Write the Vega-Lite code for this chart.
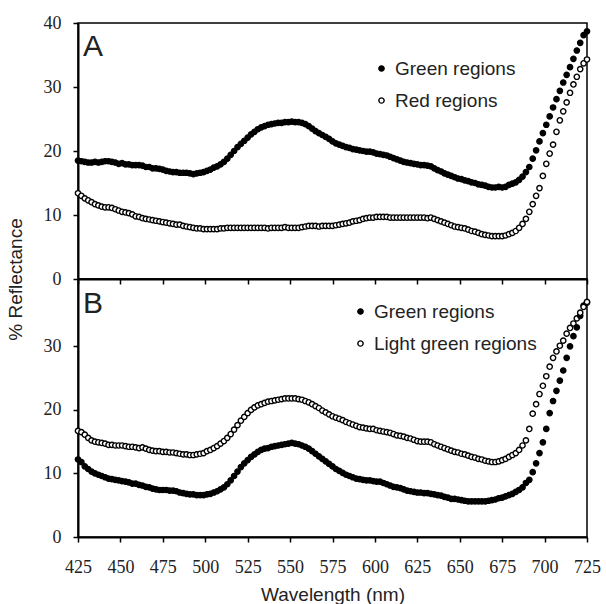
{
"$schema": "https://vega.github.io/schema/vega-lite/v6.json",
"padding": {"left": 5, "top": 13, "right": 5, "bottom": 0},
"bounds": "flush",
"spacing": 0,
"datasets": {"s": [
{"w":425,"a":18.5,"b":13.4,"c":12.2,"d":16.7},
{"w":427,"a":18.4,"b":13.0,"c":11.8,"d":16.5},
{"w":429,"a":18.3,"b":12.6,"c":11.1,"d":16.1},
{"w":431,"a":18.2,"b":12.3,"c":10.7,"d":15.6},
{"w":433,"a":18.2,"b":12.0,"c":10.3,"d":15.2},
{"w":435,"a":18.3,"b":11.7,"c":10.0,"d":15.0},
{"w":437,"a":18.2,"b":11.5,"c":9.8,"d":14.9},
{"w":439,"a":18.3,"b":11.3,"c":9.6,"d":14.8},
{"w":441,"a":18.4,"b":11.2,"c":9.4,"d":14.7},
{"w":443,"a":18.4,"b":11.2,"c":9.2,"d":14.5},
{"w":445,"a":18.3,"b":11.1,"c":9.1,"d":14.5},
{"w":447,"a":18.2,"b":10.9,"c":9.0,"d":14.4},
{"w":449,"a":18.0,"b":10.7,"c":8.9,"d":14.4},
{"w":451,"a":18.1,"b":10.5,"c":8.8,"d":14.4},
{"w":453,"a":17.9,"b":10.4,"c":8.7,"d":14.3},
{"w":455,"a":17.9,"b":10.3,"c":8.6,"d":14.2},
{"w":457,"a":17.8,"b":10.1,"c":8.4,"d":14.2},
{"w":459,"a":17.8,"b":9.8,"c":8.4,"d":14.1},
{"w":461,"a":17.8,"b":9.7,"c":8.2,"d":14.0},
{"w":463,"a":17.7,"b":9.5,"c":8.1,"d":14.1},
{"w":465,"a":17.5,"b":9.4,"c":7.9,"d":13.9},
{"w":467,"a":17.5,"b":9.3,"c":7.8,"d":13.7},
{"w":469,"a":17.3,"b":9.2,"c":7.6,"d":13.6},
{"w":471,"a":17.3,"b":9.1,"c":7.5,"d":13.5},
{"w":473,"a":17.2,"b":9.0,"c":7.4,"d":13.5},
{"w":475,"a":17.1,"b":8.9,"c":7.4,"d":13.4},
{"w":477,"a":16.9,"b":8.8,"c":7.4,"d":13.4},
{"w":479,"a":16.8,"b":8.7,"c":7.3,"d":13.3},
{"w":481,"a":16.7,"b":8.6,"c":7.3,"d":13.3},
{"w":483,"a":16.7,"b":8.5,"c":7.2,"d":13.2},
{"w":485,"a":16.6,"b":8.5,"c":7.0,"d":13.1},
{"w":487,"a":16.6,"b":8.3,"c":6.9,"d":13.0},
{"w":489,"a":16.6,"b":8.2,"c":6.8,"d":13.0},
{"w":491,"a":16.5,"b":8.1,"c":6.7,"d":12.9},
{"w":493,"a":16.4,"b":8.0,"c":6.7,"d":12.9},
{"w":495,"a":16.5,"b":7.9,"c":6.6,"d":13.0},
{"w":497,"a":16.6,"b":7.9,"c":6.6,"d":13.1},
{"w":499,"a":16.7,"b":7.8,"c":6.6,"d":13.2},
{"w":501,"a":16.9,"b":7.8,"c":6.7,"d":13.5},
{"w":503,"a":17.1,"b":7.8,"c":6.8,"d":13.7},
{"w":505,"a":17.4,"b":7.8,"c":7.0,"d":14.0},
{"w":507,"a":17.6,"b":7.8,"c":7.2,"d":14.3},
{"w":509,"a":17.9,"b":7.9,"c":7.5,"d":14.7},
{"w":511,"a":18.3,"b":7.9,"c":7.8,"d":15.1},
{"w":513,"a":18.8,"b":8.0,"c":8.3,"d":15.6},
{"w":515,"a":19.4,"b":8.0,"c":8.9,"d":16.2},
{"w":517,"a":20.0,"b":8.0,"c":9.6,"d":16.9},
{"w":519,"a":20.6,"b":8.0,"c":10.3,"d":17.6},
{"w":521,"a":21.1,"b":8.0,"c":11.0,"d":18.3},
{"w":523,"a":21.6,"b":8.0,"c":11.6,"d":18.9},
{"w":525,"a":22.1,"b":8.0,"c":12.1,"d":19.5},
{"w":527,"a":22.6,"b":8.0,"c":12.6,"d":20.0},
{"w":529,"a":23.0,"b":8.0,"c":13.0,"d":20.4},
{"w":531,"a":23.4,"b":8.0,"c":13.4,"d":20.7},
{"w":533,"a":23.7,"b":8.0,"c":13.7,"d":20.9},
{"w":535,"a":23.9,"b":8.0,"c":13.9,"d":21.1},
{"w":537,"a":24.1,"b":7.9,"c":14.0,"d":21.3},
{"w":539,"a":24.2,"b":8.0,"c":14.2,"d":21.4},
{"w":541,"a":24.3,"b":8.0,"c":14.3,"d":21.5},
{"w":543,"a":24.4,"b":8.0,"c":14.4,"d":21.6},
{"w":545,"a":24.4,"b":8.0,"c":14.5,"d":21.7},
{"w":547,"a":24.5,"b":8.1,"c":14.6,"d":21.8},
{"w":549,"a":24.5,"b":8.0,"c":14.7,"d":21.8},
{"w":551,"a":24.6,"b":8.0,"c":14.8,"d":21.8},
{"w":553,"a":24.5,"b":8.0,"c":14.7,"d":21.8},
{"w":555,"a":24.5,"b":8.0,"c":14.6,"d":21.7},
{"w":557,"a":24.4,"b":8.1,"c":14.4,"d":21.6},
{"w":559,"a":24.2,"b":8.2,"c":14.2,"d":21.4},
{"w":561,"a":23.9,"b":8.3,"c":13.9,"d":21.2},
{"w":563,"a":23.5,"b":8.3,"c":13.5,"d":20.9},
{"w":565,"a":23.1,"b":8.3,"c":13.1,"d":20.6},
{"w":567,"a":22.8,"b":8.2,"c":12.7,"d":20.3},
{"w":569,"a":22.5,"b":8.3,"c":12.3,"d":19.9},
{"w":571,"a":22.2,"b":8.3,"c":11.9,"d":19.6},
{"w":573,"a":21.9,"b":8.3,"c":11.5,"d":19.3},
{"w":575,"a":21.5,"b":8.3,"c":11.1,"d":19.0},
{"w":577,"a":21.2,"b":8.4,"c":10.7,"d":18.8},
{"w":579,"a":21.0,"b":8.5,"c":10.4,"d":18.6},
{"w":581,"a":20.8,"b":8.6,"c":10.1,"d":18.4},
{"w":583,"a":20.6,"b":8.7,"c":9.8,"d":18.1},
{"w":585,"a":20.5,"b":8.8,"c":9.6,"d":17.9},
{"w":587,"a":20.3,"b":9.0,"c":9.4,"d":17.7},
{"w":589,"a":20.2,"b":9.1,"c":9.2,"d":17.5},
{"w":591,"a":20.1,"b":9.2,"c":9.1,"d":17.3},
{"w":593,"a":20.0,"b":9.4,"c":9.0,"d":17.2},
{"w":595,"a":19.9,"b":9.5,"c":8.9,"d":17.1},
{"w":597,"a":19.9,"b":9.6,"c":8.9,"d":17.0},
{"w":599,"a":19.8,"b":9.6,"c":8.8,"d":17.0},
{"w":601,"a":19.6,"b":9.7,"c":8.7,"d":16.8},
{"w":603,"a":19.5,"b":9.7,"c":8.7,"d":16.7},
{"w":605,"a":19.4,"b":9.7,"c":8.5,"d":16.6},
{"w":607,"a":19.3,"b":9.7,"c":8.3,"d":16.5},
{"w":609,"a":19.1,"b":9.6,"c":8.1,"d":16.4},
{"w":611,"a":18.9,"b":9.6,"c":7.9,"d":16.2},
{"w":613,"a":18.7,"b":9.6,"c":7.8,"d":16.0},
{"w":615,"a":18.5,"b":9.6,"c":7.7,"d":15.9},
{"w":617,"a":18.3,"b":9.6,"c":7.5,"d":15.8},
{"w":619,"a":18.2,"b":9.6,"c":7.3,"d":15.6},
{"w":621,"a":18.1,"b":9.6,"c":7.2,"d":15.5},
{"w":623,"a":18.0,"b":9.6,"c":7.1,"d":15.3},
{"w":625,"a":17.9,"b":9.6,"c":7.0,"d":15.1},
{"w":627,"a":17.8,"b":9.6,"c":7.0,"d":15.0},
{"w":629,"a":17.8,"b":9.6,"c":6.9,"d":15.0},
{"w":631,"a":17.7,"b":9.5,"c":6.9,"d":15.0},
{"w":633,"a":17.6,"b":9.6,"c":6.8,"d":14.9},
{"w":635,"a":17.3,"b":9.4,"c":6.7,"d":14.6},
{"w":637,"a":17.0,"b":9.2,"c":6.6,"d":14.4},
{"w":639,"a":16.8,"b":9.0,"c":6.5,"d":14.2},
{"w":641,"a":16.5,"b":8.8,"c":6.3,"d":14.0},
{"w":643,"a":16.3,"b":8.6,"c":6.2,"d":13.8},
{"w":645,"a":16.1,"b":8.4,"c":6.0,"d":13.6},
{"w":647,"a":15.9,"b":8.2,"c":6.0,"d":13.4},
{"w":649,"a":15.7,"b":8.1,"c":5.9,"d":13.3},
{"w":651,"a":15.6,"b":8.0,"c":5.8,"d":13.1},
{"w":653,"a":15.4,"b":7.9,"c":5.7,"d":13.0},
{"w":655,"a":15.3,"b":7.7,"c":5.6,"d":12.8},
{"w":657,"a":15.1,"b":7.5,"c":5.6,"d":12.6},
{"w":659,"a":15.0,"b":7.4,"c":5.6,"d":12.5},
{"w":661,"a":14.8,"b":7.2,"c":5.6,"d":12.3},
{"w":663,"a":14.7,"b":7.0,"c":5.6,"d":12.2},
{"w":665,"a":14.6,"b":6.9,"c":5.6,"d":12.0},
{"w":667,"a":14.4,"b":6.8,"c":5.7,"d":11.9},
{"w":669,"a":14.3,"b":6.7,"c":5.8,"d":11.8},
{"w":671,"a":14.3,"b":6.7,"c":5.9,"d":11.8},
{"w":673,"a":14.4,"b":6.7,"c":6.1,"d":11.9},
{"w":675,"a":14.3,"b":6.7,"c":6.2,"d":12.1},
{"w":677,"a":14.4,"b":6.8,"c":6.4,"d":12.3},
{"w":679,"a":14.7,"b":7.0,"c":6.6,"d":12.6},
{"w":681,"a":14.9,"b":7.2,"c":6.8,"d":12.9},
{"w":683,"a":15.1,"b":7.5,"c":7.1,"d":13.2},
{"w":685,"a":15.5,"b":8.0,"c":7.4,"d":13.7},
{"w":687,"a":16.0,"b":8.6,"c":7.8,"d":14.4},
{"w":689,"a":16.7,"b":9.4,"c":8.5,"d":15.2},
{"w":691,"a":17.5,"b":10.5,"c":9.0,"d":17.0},
{"w":693,"a":18.8,"b":11.7,"c":10.2,"d":19.4},
{"w":695,"a":20.1,"b":13.0,"c":11.6,"d":20.9},
{"w":697,"a":21.5,"b":14.2,"c":13.2,"d":22.5},
{"w":699,"a":22.8,"b":16.1,"c":14.9,"d":23.8},
{"w":701,"a":24.1,"b":18.0,"c":17.0,"d":25.3},
{"w":703,"a":25.4,"b":19.6,"c":19.5,"d":26.8},
{"w":705,"a":26.8,"b":21.0,"c":21.4,"d":28.2},
{"w":707,"a":28.1,"b":23.0,"c":23.0,"d":29.2},
{"w":709,"a":29.4,"b":24.8,"c":24.6,"d":30.1},
{"w":711,"a":30.7,"b":26.2,"c":26.2,"d":30.9},
{"w":713,"a":31.9,"b":27.6,"c":28.2,"d":32.0},
{"w":715,"a":33.1,"b":29.1,"c":30.0,"d":32.9},
{"w":717,"a":34.4,"b":30.4,"c":31.6,"d":33.6},
{"w":719,"a":35.7,"b":31.6,"c":33.0,"d":34.4},
{"w":721,"a":36.9,"b":32.8,"c":34.8,"d":35.3},
{"w":723,"a":38.1,"b":33.7,"c":36.4,"d":36.2},
{"w":725,"a":38.7,"b":34.3,"c":36.9,"d":37.0}
]},
"config": {
  "view": {"stroke": "black", "strokeWidth": 1.5},
  "axis": {"labelFont": "Liberation Serif", "labelFontSize": 18, "labelColor": "#222", "tickColor": "black", "domainColor": "black", "domainWidth": 2, "tickWidth": 1.5, "tickSize": 5, "grid": false, "titleFont": "Liberation Sans", "titleFontSize": 19, "titleFontWeight": "normal", "titleColor": "#222", "labelPadding": 12, "labelFlush": false, "labelOverlap": false},
  "legend": {"labelFont": "Liberation Sans", "labelFontSize": 19, "labelColor": "#222", "labelLimit": 400, "symbolType": "circle", "symbolSize": 28, "symbolStrokeColor": "black", "symbolStrokeWidth": 1.4, "rowPadding": 12, "labelOffset": 4}
},
"resolve": {"scale": {"fill": "independent", "y": "independent"}, "legend": {"fill": "independent"}},
"vconcat": [
{
  "width": 509, "height": 256,
  "layer": [
    {
      "data": {"name": "s"},
      "transform": [{"fold": ["a", "b"], "as": ["k", "v"]}],
      "mark": {"type": "point", "shape": "circle", "filled": true, "size": 28, "stroke": "black", "strokeWidth": 1.4, "opacity": 1},
      "encoding": {
        "x": {"field": "w", "type": "quantitative", "scale": {"domain": [425, 725], "nice": false}, "axis": {"values": [425,450,475,500,525,550,575,600,625,650,675,700,725], "labels": false, "title": null}},
        "y": {"field": "v", "type": "quantitative", "scale": {"domain": [0, 40], "nice": false}, "axis": {"values": [0,10,20,30,40], "title": "% Reflectance", "titleX": -63, "titleY": 256, "titleBaseline": "middle", "titleAlign": "center"}},
        "fill": {"field": "k", "type": "nominal", "scale": {"domain": ["a", "b"], "range": ["black", "white"]}, "legend": {"orient": "none", "legendX": 294, "legendY": 36, "title": null, "labelExpr": "datum.label == 'a' ? 'Green regions' : 'Red regions'"}}
      }
    },
    {
      "data": {"values": [{"t": "A"}]},
      "mark": {"type": "text", "align": "left", "baseline": "alphabetic", "dx": 5, "dy": 33, "fontSize": 30, "font": "Liberation Sans", "fontWeight": 400, "color": "#222"},
      "encoding": {"x": {"datum": 425}, "y": {"datum": 40}, "text": {"field": "t"}}
    }
  ]
},
{
  "width": 509, "height": 258,
  "layer": [
    {
      "data": {"name": "s"},
      "transform": [{"fold": ["c", "d"], "as": ["k", "v"]}],
      "mark": {"type": "point", "shape": "circle", "filled": true, "size": 28, "stroke": "black", "strokeWidth": 1.4, "opacity": 1},
      "encoding": {
        "x": {"field": "w", "type": "quantitative", "scale": {"domain": [425, 725], "nice": false}, "axis": {"values": [425,450,475,500,525,550,575,600,625,650,675,700,725], "title": "Wavelength (nm)", "labelPadding": 16, "titlePadding": 9}},
        "y": {"field": "v", "type": "quantitative", "scale": {"domain": [0, 40.6], "nice": false}, "axis": {"values": [0,10,20,30], "title": null}},
        "fill": {"field": "k", "type": "nominal", "scale": {"domain": ["c", "d"], "range": ["black", "white"]}, "legend": {"orient": "none", "legendX": 273, "legendY": 23, "title": null, "labelExpr": "datum.label == 'c' ? 'Green regions' : 'Light green regions'"}}
      }
    },
    {
      "data": {"values": [{"t": "B"}]},
      "mark": {"type": "text", "align": "left", "baseline": "alphabetic", "dx": 5, "dy": 34, "fontSize": 30, "font": "Liberation Sans", "fontWeight": 400, "color": "#222"},
      "encoding": {"x": {"datum": 425}, "y": {"datum": 40.6}, "text": {"field": "t"}}
    }
  ]
}
]
}
